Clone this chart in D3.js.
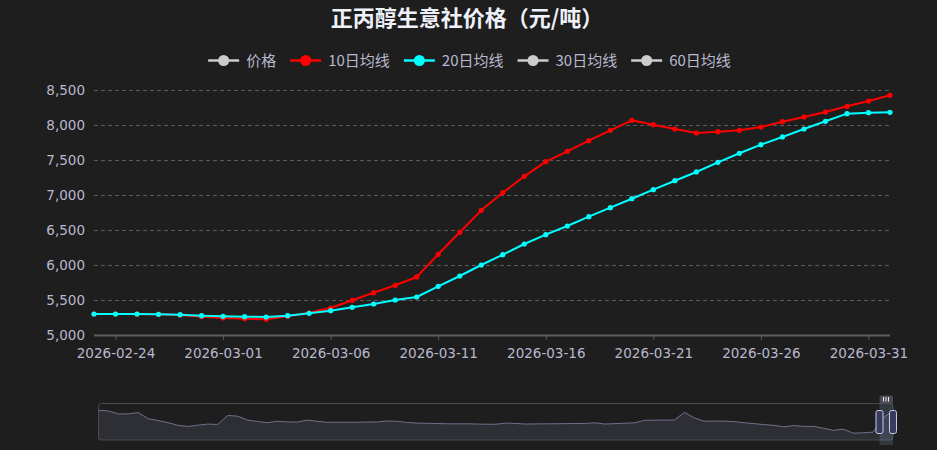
<!DOCTYPE html>
<html><head><meta charset="utf-8">
<script src="https://cdn.jsdelivr.net/npm/d3@7/dist/d3.min.js"></script>
<style>html,body{margin:0;padding:0;background:#1e1e1e;overflow:hidden}</style>
</head><body>
<svg id="c" width="937" height="450"></svg>
<script>
const titleText = "正丙醇生意社价格（元/吨）";
const dates = ["2026-02-23","2026-02-24","2026-02-25","2026-02-26","2026-02-27","2026-02-28",
  "2026-03-01","2026-03-02","2026-03-03","2026-03-04","2026-03-05","2026-03-06","2026-03-07",
  "2026-03-08","2026-03-09","2026-03-10","2026-03-11","2026-03-12","2026-03-13","2026-03-14",
  "2026-03-15","2026-03-16","2026-03-17","2026-03-18","2026-03-19","2026-03-20","2026-03-21",
  "2026-03-22","2026-03-23","2026-03-24","2026-03-25","2026-03-26","2026-03-27","2026-03-28",
  "2026-03-29","2026-03-30","2026-03-31","2026-04-01"];
const labelDates = ["2026-02-24","2026-03-01","2026-03-06","2026-03-11","2026-03-16","2026-03-21","2026-03-26","2026-03-31"];
const ma10 = [5300,5300,5300,5296,5286,5262,5243,5233,5224,5267,
  5318,5386,5496,5604,5710,5829,6153,6467,6781,7033,
  7267,7476,7624,7776,7924,8067,8004,7943,7886,7904,
  7924,7971,8047,8114,8186,8267,8343,8424];
const ma20 = [5300,5300,5300,5296,5290,5276,5267,5262,5257,5276,
  5310,5347,5396,5443,5500,5543,5696,5843,6000,6147,
  6300,6433,6557,6690,6819,6947,7076,7204,7329,7467,
  7596,7719,7829,7943,8053,8162,8176,8181];
const yTicks = [5000,5500,6000,6500,7000,7500,8000,8500];
const legendNames = ["价格","10日均线","20日均线","30日均线","60日均线"];
const legendColors = ["#cccccc","#ff0000","#00ffff","#cccccc","#cccccc"];
const seriesColors = {"10日均线":"#ff0000","20日均线":"#00ffff"};
// full-history price used by the zoom slider's data shadow
const shadowPrices = [8600,8520,8070,8070,8270,7360,7070,6770,6360,6200,
  6390,6550,6500,7830,7740,7150,6950,6760,6970,6880,
  6860,7130,6980,6820,6820,6820,6820,6860,6860,7010,
  6980,6800,6700,6670,6640,6600,6580,6600,6560,6530,
  6530,6700,6640,6560,6580,6590,6600,6620,6640,6650,
  6740,6560,6620,6680,6740,7120,7130,7150,7160,8300,
  7470,6970,7000,7000,6920,6760,6620,6480,6360,6150,
  6330,6210,6210,5930,5620,5800,5200,5250,5350,7470,8560];

const W = 937, H = 450;
const svg = d3.select("#c");
svg.append("rect").attr("width",W).attr("height",H).attr("fill","#1e1e1e");

const x = d3.scalePoint().domain(dates).range([94, 890]);
const y = d3.scaleLinear().domain([5000, 8500]).range([335, 90]);

// title
svg.append("text").attr("x", 467).attr("y", 26)
  .attr("text-anchor","middle")
  .attr("font-family","'Noto Sans CJK TC', sans-serif")
  .attr("font-weight","bold").attr("font-size",22)
  .attr("fill","#eef1fa").text(titleText);

// legend
const lg = svg.append("g");
const items = legendNames.map((n,i)=>{
  const g = lg.append("g");
  const t = g.append("text").attr("font-family","'Noto Sans CJK SC', sans-serif")
    .attr("font-size",15).attr("fill","#b9b8ce").attr("y",65.5).text(n);
  return {g, t, w: t.node().getComputedTextLength(), c: legendColors[i]};
});
const iconW = 31, iconGap = 7, itemGap = 14;
const totalW = d3.sum(items, d=>iconW+iconGap+d.w) + itemGap*(items.length-1);
let cx = 469.5 - totalW/2;
items.forEach(it=>{
  it.g.append("line").attr("x1",cx).attr("x2",cx+iconW).attr("y1",60.5).attr("y2",60.5)
    .attr("stroke",it.c).attr("stroke-width",2.5);
  it.g.append("circle").attr("cx",cx+iconW/2).attr("cy",60.5).attr("r",5.5).attr("fill",it.c);
  it.t.attr("x", cx+iconW+iconGap);
  cx += iconW+iconGap+it.w+itemGap;
});

// grid lines
const grid = svg.append("g");
grid.selectAll("line").data(yTicks.filter(v=>v>5000)).join("line")
  .attr("x1",94).attr("x2",890).attr("y1",d=>y(d)+0.5).attr("y2",d=>y(d)+0.5)
  .attr("stroke","#5a5a5a").attr("stroke-width",1).attr("stroke-dasharray","4,3");

// y axis labels
const fmt = d3.format(",");
const yAxis = d3.axisLeft(y).tickValues(yTicks).tickSize(0).tickPadding(9).tickFormat(fmt);
const yg = svg.append("g").attr("transform","translate(94,0)").call(yAxis);
yg.select(".domain").remove();
yg.selectAll("text").attr("font-family","'DejaVu Sans', sans-serif").attr("font-size",13.5).attr("fill","#b9b8ce");

// x axis
const xAxis = d3.axisBottom(x).tickValues(labelDates).tickSize(5).tickPadding(8);
const xg = svg.append("g").attr("transform","translate(0,335)").call(xAxis);
xg.select(".domain").attr("d","M94,0.5H890").attr("stroke","#5c5c5c").attr("stroke-width",2);
xg.selectAll(".tick line").attr("stroke","#5c5c5c").attr("stroke-width",1);
xg.selectAll("text").attr("font-family","'DejaVu Sans', sans-serif").attr("font-size",13.5).attr("fill","#b9b8ce");

// series
const seriesList = [{name:"10日均线", vals:ma10},{name:"20日均线", vals:ma20}];
const line = d3.line().x((d,i)=>x(dates[i])).y(d=>y(d));
seriesList.forEach(s=>{
  const g = svg.append("g");
  g.append("path").datum(s.vals).attr("d",line).attr("fill","none")
    .attr("stroke",seriesColors[s.name]).attr("stroke-width",2).attr("stroke-linejoin","round");
  g.selectAll("circle").data(s.vals).join("circle")
    .attr("cx",(d,i)=>x(dates[i])).attr("cy",d=>y(d)).attr("r",2.6)
    .attr("fill",seriesColors[s.name]);
});

// data zoom slider
const sx0 = 98.5, sx1 = 893, sy0 = 403.5, sy1 = 440;
const ext = d3.extent(shadowPrices);
const off = (ext[1]-ext[0])*0.3;
const shx = d3.scaleLinear().domain([0, shadowPrices.length-1]).range([sx0, sx1]);
const shy = d3.scaleLinear().domain([ext[0]-off, ext[1]+off]).range([sy1, sy0]);
const dz = svg.append("g");
dz.append("path").datum(shadowPrices)
  .attr("d", d3.area().x((d,i)=>shx(i)).y0(sy1).y1(d=>shy(d)))
  .attr("fill","#2e2e35");
dz.append("path").datum(shadowPrices)
  .attr("d", d3.line().x((d,i)=>shx(i)).y(d=>shy(d)))
  .attr("fill","none").attr("stroke","#71708a").attr("stroke-width",1);
dz.append("rect").attr("x",sx0).attr("y",sy0).attr("width",sx1-sx0).attr("height",sy1-sy0)
  .attr("rx",3).attr("fill","none").attr("stroke","#4a4a52").attr("stroke-width",1);
// selected window
const wx0 = 879.5, wx1 = 893;
dz.append("rect").attr("x",wx0).attr("y",sy0).attr("width",wx1-wx0).attr("height",sy1-sy0+5)
  .attr("fill","rgba(135,163,206,0.2)");
dz.append("rect").attr("x",wx0).attr("y",395.5).attr("width",wx1-wx0).attr("height",8)
  .attr("rx",2).attr("fill","#4a4a55");
[883.5,886,888.5].forEach(v=>dz.append("line").attr("x1",v).attr("x2",v).attr("y1",397).attr("y2",401.5)
  .attr("stroke","#eeeeee").attr("stroke-width",1));
[wx0, wx1].forEach(v=>dz.append("rect").attr("x",v-3.5).attr("y",410.5).attr("width",7).attr("height",23)
  .attr("rx",2).attr("fill","#3a3a5e").attr("stroke","#c5c9e6").attr("stroke-width",1));
</script>
</body></html>
